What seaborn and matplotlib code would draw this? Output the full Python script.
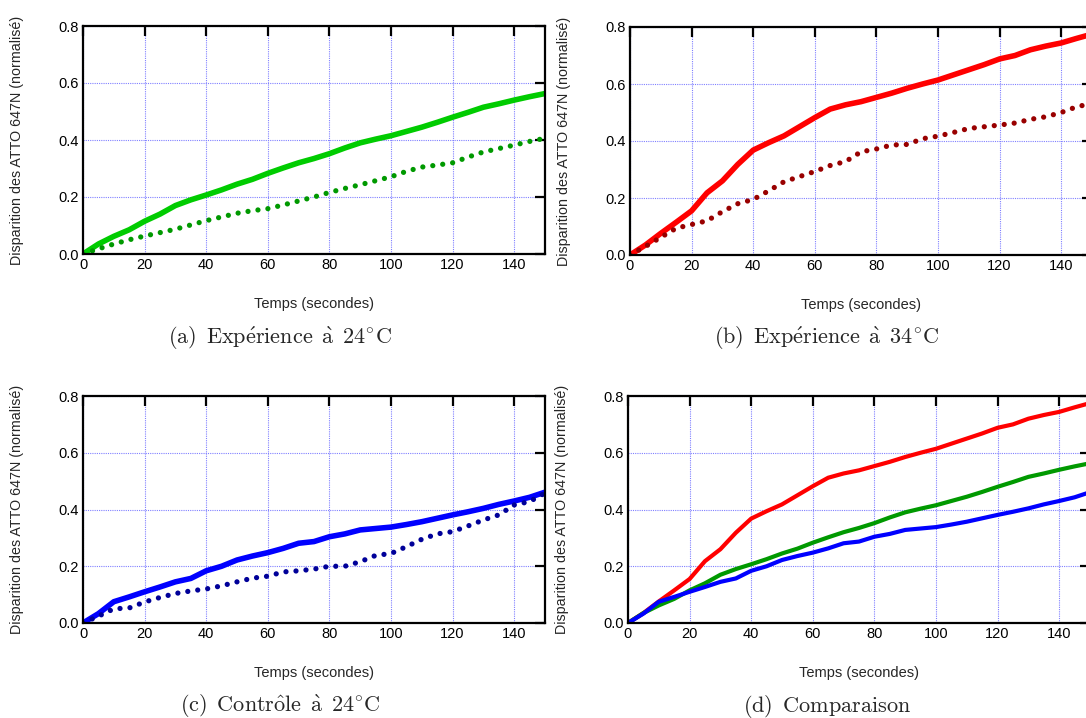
import matplotlib
matplotlib.use("Agg")
import matplotlib.pyplot as plt
import seaborn as sns
import numpy as np
import pandas as pd
from matplotlib.ticker import FormatStrFormatter, MultipleLocator

# temps (s)
temps = [0, 5, 10, 15, 20, 25, 30, 35, 40, 45, 50, 55, 60, 65, 70, 75, 80,
         85, 90, 95, 100, 105, 110, 115, 120, 125, 130, 135, 140, 145, 150]

# experience a 24 C
exp24 = [0.0, 0.035, 0.062, 0.085, 0.115, 0.14, 0.17, 0.19, 0.207, 0.225, 0.245,
         0.262, 0.283, 0.302, 0.32, 0.335, 0.352, 0.372, 0.39, 0.403, 0.415,
         0.43, 0.445, 0.462, 0.48, 0.497, 0.515, 0.527, 0.54, 0.552, 0.563]
exp24_ref = [0.0, 0.018, 0.035, 0.05, 0.063, 0.075, 0.087, 0.102, 0.117, 0.13, 0.143,
             0.152, 0.159, 0.172, 0.186, 0.2, 0.216, 0.23, 0.243, 0.257, 0.271,
             0.29, 0.305, 0.312, 0.32, 0.34, 0.358, 0.37, 0.382, 0.395, 0.406]

# experience a 34 C
exp34 = [0.0, 0.035, 0.076, 0.115, 0.155, 0.218, 0.26, 0.318, 0.368, 0.394, 0.418,
         0.45, 0.482, 0.512, 0.527, 0.538, 0.553, 0.568, 0.585, 0.6, 0.614,
         0.632, 0.65, 0.668, 0.688, 0.7, 0.72, 0.733, 0.744, 0.76, 0.775]
exp34_ref = [0.0, 0.03, 0.062, 0.094, 0.107, 0.12, 0.152, 0.18, 0.195, 0.225, 0.257,
             0.275, 0.293, 0.314, 0.328, 0.362, 0.372, 0.386, 0.388, 0.408, 0.417,
             0.43, 0.444, 0.45, 0.456, 0.463, 0.476, 0.485, 0.5, 0.52, 0.532]

# controle a 24 C
ctrl24 = [0.0, 0.033, 0.075, 0.092, 0.11, 0.127, 0.145, 0.157, 0.184, 0.2, 0.222,
          0.236, 0.248, 0.263, 0.281, 0.287, 0.304, 0.314, 0.328, 0.333, 0.338,
          0.347, 0.357, 0.369, 0.381, 0.392, 0.404, 0.418, 0.43, 0.443, 0.461]
ctrl24_ref = [0.0, 0.024, 0.05, 0.053, 0.074, 0.09, 0.104, 0.113, 0.12, 0.131, 0.145,
              0.158, 0.165, 0.18, 0.184, 0.19, 0.2, 0.2, 0.216, 0.238, 0.245,
              0.269, 0.295, 0.314, 0.322, 0.342, 0.363, 0.381, 0.416, 0.428, 0.458]

df = pd.DataFrame({"t": temps, "exp24": exp24, "exp24_ref": exp24_ref,
                   "exp34": exp34, "exp34_ref": exp34_ref,
                   "ctrl24": ctrl24, "ctrl24_ref": ctrl24_ref})

sns.set_style("white")
plt.rcParams["font.family"] = ["Liberation Sans", "DejaVu Sans"]
plt.rcParams["mathtext.fontset"] = "cm"

fig = plt.figure(figsize=(10.86, 7.18), dpi=100)

W, H = 1086.0, 718.0
def make_ax(x0, y_top, x1, y_bot):
    return fig.add_axes([x0 / W, 1 - y_bot / H, (x1 - x0) / W, (y_bot - y_top) / H])

ax_a = make_ax(83, 26, 545, 254)
ax_b = make_ax(630, 27, 1092, 255)
ax_c = make_ax(83, 396, 545, 623)
ax_d = make_ax(628, 396, 1090, 623)

dot = (0, (0.001, 1.9))

def style(ax):
    ax.set_xlim(0, 150)
    ax.set_ylim(0, 0.8)
    ax.xaxis.set_major_locator(MultipleLocator(20))
    ax.yaxis.set_major_locator(MultipleLocator(0.2))
    ax.yaxis.set_major_formatter(FormatStrFormatter("%.1f"))
    ax.grid(True, color="#8080ff", linestyle=(0, (1, 1)), linewidth=0.8)
    ax.set_axisbelow(True)
    for s in ax.spines.values():
        s.set_linewidth(1.6)
        s.set_color("black")
    ax.tick_params(direction="in", top=True, right=True, length=7, width=1.6,
                   labelsize=10.5, pad=3, colors="black")
    ax.set_xlabel("Temps (secondes)", fontsize=10.5)
    ax.set_ylabel("Disparition des ATTO 647N (normalisé)", fontsize=10.3)
    ax.xaxis.set_label_coords(0.5, -0.19)
    ax.yaxis.set_label_coords(-0.128, 0.5)

sns.lineplot(data=df, x="t", y="exp24", ax=ax_a, color="#00cc00", linewidth=4,
             solid_capstyle="round")
sns.lineplot(data=df, x="t", y="exp24_ref", ax=ax_a, color="#009900", linewidth=3.8,
             linestyle=dot, dash_capstyle="round")

sns.lineplot(data=df, x="t", y="exp34", ax=ax_b, color="#ff0000", linewidth=4,
             solid_capstyle="round")
sns.lineplot(data=df, x="t", y="exp34_ref", ax=ax_b, color="#990000", linewidth=3.8,
             linestyle=dot, dash_capstyle="round")

sns.lineplot(data=df, x="t", y="ctrl24", ax=ax_c, color="#0000ff", linewidth=4,
             solid_capstyle="round")
sns.lineplot(data=df, x="t", y="ctrl24_ref", ax=ax_c, color="#000099", linewidth=3.8,
             linestyle=dot, dash_capstyle="round")

sns.lineplot(data=df, x="t", y="exp34", ax=ax_d, color="#ff0000", linewidth=3)
sns.lineplot(data=df, x="t", y="exp24", ax=ax_d, color="#009900", linewidth=3)
sns.lineplot(data=df, x="t", y="ctrl24", ax=ax_d, color="#0000ff", linewidth=3)

for ax in (ax_a, ax_b, ax_c, ax_d):
    style(ax)

captions = [
    (280, 338, r"$\mathrm{(a)\ \,Exp\acute{e}rience\ \,\grave{a}\ \,24^{\circ}C}$"),
    (826, 338, r"$\mathrm{(b)\ \,Exp\acute{e}rience\ \,\grave{a}\ \,34^{\circ}C}$"),
    (280, 706, r"$\mathrm{(c)\ \,Contr\hat{o}le\ \,\grave{a}\ \,24^{\circ}C}$"),
    (827, 706, r"$\mathrm{(d)\ \,Comparaison}$"),
]
for x, y, txt in captions:
    fig.text(x / W, 1 - y / H, txt, ha="center", va="center", fontsize=16)

fig.savefig("out.png", dpi=100)
